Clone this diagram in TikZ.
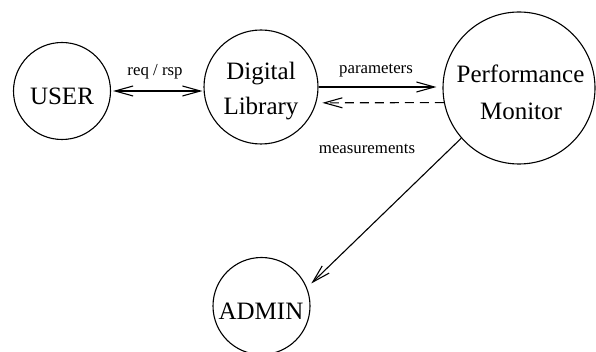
\documentclass[tikz,border=0pt]{standalone}
\usepackage{fontspec}
\setmainfont{Liberation Serif}
\usetikzlibrary{arrows.meta}
\begin{document}
\begin{tikzpicture}[x=1pt,y=-1pt,
  bubble/.style={circle,draw,line width=1.1pt,inner sep=0pt},
  bigtext/.style={font=\fontsize{25}{30}\selectfont,anchor=base,inner sep=0pt},
  smalltext/.style={font=\fontsize{16.8}{20}\selectfont,inner sep=0pt},
  link/.style={line width=1.1pt},
  barb/.style={-{Straight Barb[length=18pt,width=10pt]}},
  dbarb/.style={{Straight Barb[length=18pt,width=10pt]}-{Straight Barb[length=18pt,width=10pt]}}]
  \useasboundingbox (0,0) rectangle (596,352);

  % the four parties
  \node[bubble,minimum size=97pt]  (user)  at (62,91)    {};
  \node[bubble,minimum size=114pt] (dl)    at (261,87)   {};
  \node[bubble,minimum size=152pt] (pm)    at (519,88)   {};
  \node[bubble,minimum size=97pt]  (admin) at (261.5,306) {};

  % their names
  \node[bigtext] (usertxt)  at (62,105)   {USER};
  \node[bigtext] (dltxta)   at (261,80)   {Digital};
  \node[bigtext] (dltxtb)   at (261,115)  {Library};
  \node[bigtext] (pmtxta)   at (520.5,83) {Performance};
  \node[bigtext] (pmtxtb)   at (521,120)  {Monitor};
  \node[bigtext] (admintxt) at (261,319)  {ADMIN};

  % requests and responses between user and library
  \draw[link,dbarb,shorten <=2pt,shorten >=1pt] (user.east) -- (user.east -| dl.west);
  \node[smalltext] (reqrsp) at (155,72) {req / rsp};

  % parameters sent to the monitor
  \draw[link,barb,shorten >=6pt] (dl.east) -- (dl.east -| pm.west);
  \node[smalltext] (params) at (376,71) {parameters};

  % measurements returned to the library
  \draw[link,barb,dash pattern=on 9pt off 6pt,shorten >=6pt] (pm.191.4) -- (dl.-16.3);
  \node[smalltext] (meas) at (367,149) {measurements};

  % report to the administrator
  \draw[link,barb,shorten >=6pt] (pm.221.8) -- (admin.22);
\end{tikzpicture}
\end{document}
